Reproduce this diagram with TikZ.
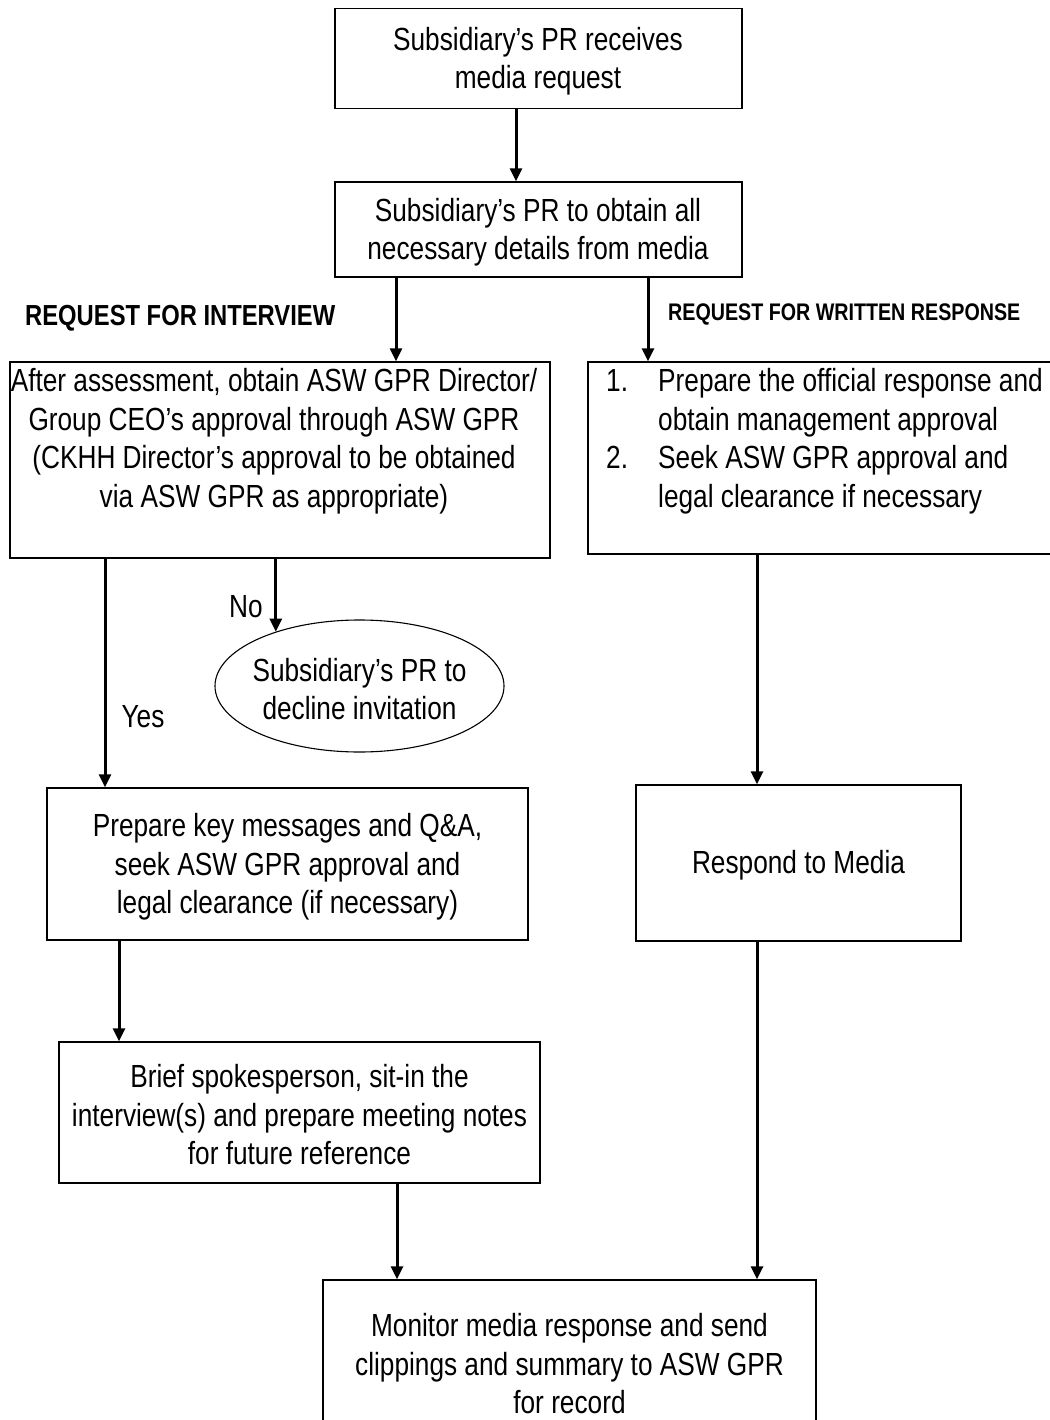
\documentclass[tikz,border=0pt]{standalone}
\usepackage{fontspec}
\setmainfont{Liberation Sans}[FakeStretch=0.82]
\usetikzlibrary{shapes.geometric,arrows.meta}

\begin{document}
\begin{tikzpicture}[x=1pt,y=-1pt,
  box/.style={draw, line width=1.4pt, inner sep=0pt},
  oval/.style={draw, ellipse, line width=1.1pt, inner sep=0pt},
  txt/.style={align=center, inner sep=0pt, font=\fontsize{32}{38.5}\selectfont},
  ltxt/.style={align=left, inner sep=0pt, font=\fontsize{32}{38.5}\selectfont},
  headA/.style={inner sep=0pt, font=\fontsize{29}{34}\selectfont\bfseries},
  headB/.style={inner sep=0pt, font=\fontsize{24}{28}\selectfont\bfseries},
  flow/.style={line width=3pt, -{Triangle[width=12pt,length=13pt]}}]

\useasboundingbox (0,0) rectangle (1049,1420);

% boxes
\node[box, minimum width=407pt, minimum height=100pt] (b1) at (538.5,58.5) {};
\node[box, minimum width=407pt, minimum height=95pt]  (b2) at (538.5,229.5) {};
\node[box, minimum width=540pt, minimum height=196pt] (b3) at (280,460) {};
\node[box, minimum width=472pt, minimum height=192pt] (b4) at (824,458) {};
\node[oval, minimum width=289pt, minimum height=132pt] (e1) at (359.5,686) {};
\node[box, minimum width=481pt, minimum height=152pt] (b5) at (287.5,864) {};
\node[box, minimum width=325pt, minimum height=156pt] (b6) at (798.5,863) {};
\node[box, minimum width=481pt, minimum height=141pt] (b7) at (299.5,1112.5) {};
\node[box, minimum width=493pt, minimum height=160pt] (b8) at (569.5,1360) {};

% texts
\node[txt] (t1) at (538,61) {Subsidiary’s PR receives\\media request};
\node[txt] (t2) at (538,232) {Subsidiary’s PR to obtain all\\necessary details from media};
\node[txt] (t3) at (274,441) {After assessment, obtain ASW GPR Director/\\Group CEO’s approval through ASW GPR\\(CKHH Director’s approval to be obtained\\via ASW GPR as appropriate)};
\node[ltxt, anchor=west] (t4) at (606,441) {\makebox[52pt][l]{1.}Prepare the official response and\\\hspace*{52pt}obtain management approval\\\makebox[52pt][l]{2.}Seek ASW GPR approval and\\\hspace*{52pt}legal clearance if necessary};
\node[txt] (t5) at (359.5,689) {Subsidiary’s PR to\\decline invitation};
\node[txt] (t6) at (287.5,867) {Prepare key messages and Q\&A,\\seek ASW GPR approval and\\legal clearance (if necessary)};
\node[txt] (t7) at (798.5,865) {Respond to Media};
\node[txt] (t8) at (299.5,1115) {Brief spokesperson, sit-in the\\interview(s) and prepare meeting notes\\for future reference};
\node[txt] (t9) at (569.5,1364) {Monitor media response and send\\clippings and summary to ASW GPR\\for record};

% branch headings
\node[headA, anchor=west] (h1) at (25,318) {REQUEST FOR INTERVIEW};
\node[headB, anchor=west] (h2) at (668,314) {REQUEST FOR WRITTEN RESPONSE};

% connector columns
\coordinate (c516) at (516,0);
\coordinate (c396) at (396,0);
\coordinate (c648) at (648,0);
\coordinate (c105) at (105,0);
\coordinate (c119) at (119,0);
\coordinate (c397) at (397,0);
\coordinate (c757) at (757,0);

% connectors
\draw[flow] (b1.south -| c516) -- (b2.north -| c516);
\draw[flow] (b2.south -| c396) -- (b3.north -| c396);
\draw[flow] (b2.south -| c648) -- (b4.north -| c648);
\draw[flow] (b3.south -| c105) -- (b5.north -| c105);
\draw[flow] (b3.south -| e1.147) -- (e1.147);
\draw[flow] (b4.south -| c757) -- (b6.north -| c757);
\draw[flow] (b5.south -| c119) -- (b7.north -| c119);
\draw[flow] (b7.south -| c397) -- (b8.north -| c397);
\draw[flow] (b6.south -| c757) -- (b8.north -| c757);

% decision labels
\node[txt] (yes) at (143,717) {Yes};
\node[txt] (no) at (246,607) {No};
\end{tikzpicture}
\end{document}
